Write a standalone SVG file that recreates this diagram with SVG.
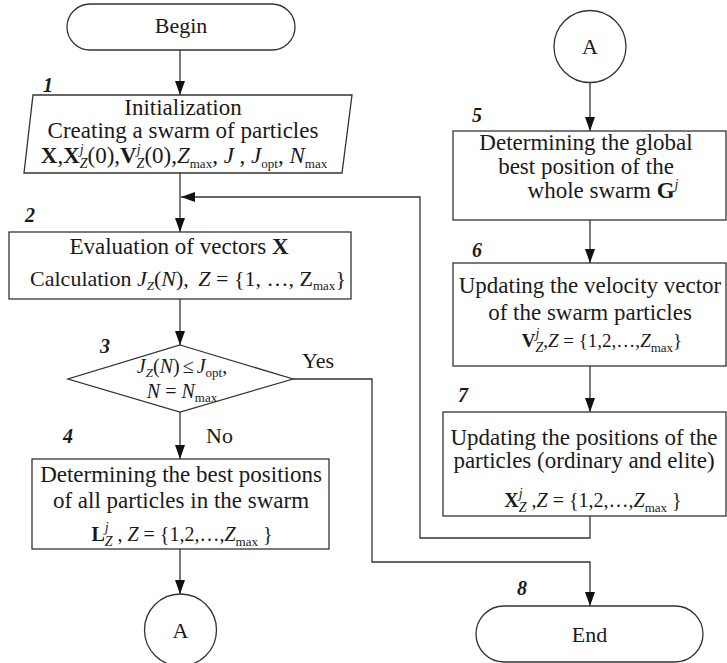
<svg xmlns="http://www.w3.org/2000/svg" width="727" height="663" viewBox="0 0 727 663">
<defs>
<marker id="arr" viewBox="0 0 14 10" refX="14" refY="5" markerWidth="14" markerHeight="10" markerUnits="userSpaceOnUse" orient="auto">
<path d="M0,0 L14,5 L0,10 z" fill="#111"/>
</marker>
<style>
.shape{fill:#fff;stroke:#333;stroke-width:1.3}
.ln{fill:none;stroke:#333;stroke-width:1.3}
.t{font-family:"Liberation Serif","Times New Roman",serif;font-size:23px;fill:#1a1a1a;text-anchor:middle}
.t22{font-size:22px}
.m{font-size:20px}
.m18{font-size:19px}
.num{font-family:"Liberation Serif","Times New Roman",serif;font-size:20px;font-weight:bold;font-style:italic;fill:#1a1a1a}
.lab{font-family:"Liberation Serif","Times New Roman",serif;font-size:22px;fill:#1a1a1a}
.b{font-weight:bold}
.i{font-style:italic}
.s{font-size:14px;font-style:italic}
.sub{font-size:13px}
</style>
</defs>
<rect width="727" height="663" fill="#fff"/>

<g id="connectors">
<path class="ln" d="M180,50 V95" marker-end="url(#arr)"/>
<path class="ln" d="M180,173 V232" marker-end="url(#arr)"/>
<path class="ln" d="M590,516 V538 H420 V197 H181" marker-end="url(#arr)"/>
<path class="ln" d="M180,299 V345" marker-end="url(#arr)"/>
<path class="ln" d="M180,412 V459" marker-end="url(#arr)"/>
<path class="ln" d="M180,549 V594" marker-end="url(#arr)"/>
<path class="ln" d="M293,379 H372 V562 H590 V606" marker-end="url(#arr)"/>
<path class="ln" d="M590,82 V131" marker-end="url(#arr)"/>
<path class="ln" d="M590,220 V263" marker-end="url(#arr)"/>
<path class="ln" d="M590,366 V412" marker-end="url(#arr)"/>
<text class="lab" x="302" y="368">Yes</text>
<text class="lab" x="206" y="443">No</text>
</g>

<g id="begin">
<rect class="shape" x="67" y="4" width="228" height="46" rx="23" ry="23"/>
<text class="t t22" x="181" y="33">Begin</text>
</g>

<g id="step1">
<text class="num" x="43" y="92">1</text>
<polygon class="shape" points="33,95 352,95 342,173 24,173"/>
<text class="t" x="183" y="115">Initialization</text>
<text class="t" x="183" y="138">Creating a swarm of particles</text>
<text class="t" x="184" y="163"><tspan class="b">X</tspan>,<tspan class="b">X</tspan><tspan class="s" dy="-9">j</tspan><tspan class="s" dx="-4" dy="14">Z</tspan><tspan dy="-5">(0),</tspan><tspan class="b">V</tspan><tspan class="s" dy="-9">j</tspan><tspan class="s" dx="-4" dy="14">Z</tspan><tspan dy="-5">(0),</tspan><tspan class="i">Z</tspan><tspan class="sub" dy="5">max</tspan><tspan dy="-5">, </tspan><tspan class="i">J</tspan><tspan> , </tspan><tspan class="i">J</tspan><tspan class="sub" dy="5">opt</tspan><tspan dy="-5">, </tspan><tspan class="i">N</tspan><tspan class="sub" dy="5">max</tspan></text>
</g>

<g id="step2">
<text class="num" x="25" y="222">2</text>
<rect class="shape" x="9" y="232" width="342" height="67"/>
<text class="t" x="179" y="254">Evaluation of vectors <tspan class="b">X</tspan></text>
<text class="t t22" x="188" y="286">Calculation <tspan class="i">J</tspan><tspan class="sub i" dy="4">Z</tspan><tspan dy="-4">(</tspan><tspan class="i">N</tspan><tspan>),  </tspan><tspan class="i" dx="4">Z</tspan><tspan> = {1, …, Z</tspan><tspan class="sub" dy="4">max</tspan><tspan dy="-4">}</tspan></text>
</g>

<g id="step3">
<text class="num" x="100" y="353">3</text>
<polygon class="shape" points="180,345 293,379 180,412 68,379"/>
<text class="t m" x="182" y="373"><tspan class="i">J</tspan><tspan class="sub i" dy="4">Z</tspan><tspan dy="-4">(</tspan><tspan class="i">N</tspan><tspan>)</tspan><tspan dx="3">≤</tspan><tspan class="i" dx="3">J</tspan><tspan class="sub" dy="4">opt</tspan><tspan dy="-4">,</tspan></text>
<text class="t m" x="182" y="398"><tspan class="i">N</tspan><tspan> = </tspan><tspan class="i">N</tspan><tspan class="sub" dy="4">max</tspan></text>
</g>

<g id="step4">
<text class="num" x="63" y="443">4</text>
<rect class="shape" x="32" y="459" width="297" height="90"/>
<text class="t" x="181" y="482">Determining the best positions</text>
<text class="t" x="181" y="508">of all particles in the swarm</text>
<text class="t m" x="182" y="541"><tspan class="b">L</tspan><tspan class="s" dy="-9">j</tspan><tspan class="s" dx="-4" dy="14">Z</tspan><tspan dy="-5"> , </tspan><tspan class="i">Z</tspan><tspan> = {1,2,…,</tspan><tspan class="i">Z</tspan><tspan class="sub" dy="5">max</tspan><tspan dy="-5"> }</tspan></text>
</g>

<g id="connA1">
<circle class="shape" cx="180.5" cy="630" r="36"/>
<text class="t t22" x="180.5" y="638">A</text>
</g>

<g id="connA2">
<circle class="shape" cx="590" cy="46.5" r="36"/>
<text class="t t22" x="590" y="54">A</text>
</g>

<g id="step5">
<text class="num" x="472" y="122">5</text>
<rect class="shape" x="453" y="131" width="273" height="89"/>
<text class="t" x="586" y="150">Determining the global</text>
<text class="t" x="586" y="174">best position of the</text>
<text class="t" x="603" y="198">whole swarm <tspan class="b">G</tspan><tspan class="s" dy="-9">j</tspan></text>
</g>

<g id="step6">
<text class="num" x="472" y="257">6</text>
<rect class="shape" x="453" y="263" width="273" height="103"/>
<text class="t" x="590" y="293">Updating the velocity vector</text>
<text class="t" x="590" y="320">of the swarm particles</text>
<text class="t m18" x="602" y="347"><tspan class="b">V</tspan><tspan class="s" dy="-9">j</tspan><tspan class="s" dx="-4" dy="14">Z</tspan><tspan dy="-5">,</tspan><tspan class="i">Z</tspan><tspan> = {1,2,…,</tspan><tspan class="i">Z</tspan><tspan class="sub" dy="5">max</tspan><tspan dy="-5">}</tspan></text>
</g>

<g id="step7">
<text class="num" x="458" y="402">7</text>
<rect class="shape" x="443" y="412" width="283" height="104"/>
<text class="t" x="584" y="445">Updating the positions of the</text>
<text class="t" x="584" y="468">particles (ordinary and elite)</text>
<text class="t m" x="593" y="507"><tspan class="b">X</tspan><tspan class="s" dy="-9">j</tspan><tspan class="s" dx="-4" dy="14">Z</tspan><tspan dy="-5"> ,</tspan><tspan class="i">Z</tspan><tspan> = {1,2,…,</tspan><tspan class="i">Z</tspan><tspan class="sub" dy="5">max</tspan><tspan dy="-5"> }</tspan></text>
</g>

<g id="end">
<text class="num" x="517" y="595">8</text>
<rect class="shape" x="476" y="606" width="227" height="56" rx="28" ry="28"/>
<text class="t t22" x="589.5" y="642">End</text>
</g>
</svg>
